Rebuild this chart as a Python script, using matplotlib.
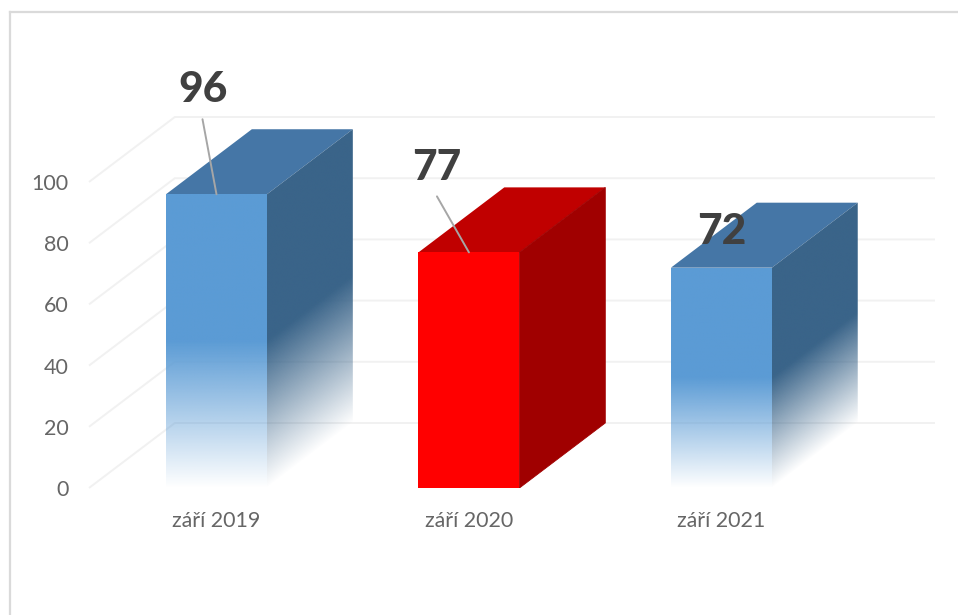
import numpy as np
import matplotlib
matplotlib.use('Agg')
import matplotlib.pyplot as plt
from matplotlib.lines import Line2D
from matplotlib.patches import Polygon

plt.rcParams['font.family'] = ['Lato', 'DejaVu Sans']

# data
categories = ['září 2019', 'září 2020', 'září 2021']
values = [96, 77, 72]
y_ticks = [0, 20, 40, 60, 80, 100]

# colours per bar: front, top, side
front_colors = ['#5B9BD5', '#FF0000', '#5B9BD5']
top_colors = ['#4576A6', '#C00000', '#4576A6']
side_colors = ['#3A6489', '#A00000', '#3A6489']
fades = [True, False, True]

# label placement in pixels from the bar top centre
label_offsets = [(-13, 104), (-32, 84), (0, 36)]
leader_offsets = [(-14, 75), (-32, 56), None]

W, H = 958, 615
BAR_W = 0.40
DEPTH_X = 0.34
DEPTH_Y = 65 / 3.06


def hex_rgb(c):
    return matplotlib.colors.to_rgb(c)


fig = plt.figure(figsize=(W / 100, H / 100), dpi=100, facecolor='white')
ax = fig.add_axes([89 / W, (H - 488) / H, (935 - 89) / W, (488 - 100) / H])
ax.patch.set_alpha(0)

# outer chart frame, only top and left are in the crop
frame = dict(color='#DADADA', lw=1.6, transform=fig.transFigure)
fig.add_artist(Line2D([9.5 / W, 9.5 / W], [0, 1 - 11.5 / H], **frame))
fig.add_artist(Line2D([9.5 / W, 1], [1 - 11.5 / H, 1 - 11.5 / H], **frame))

x_min, x_max = -0.505, 2.846
y_max = 388 / 3.06

# wall and floor grid
for t in y_ticks:
    ax.plot([x_min, x_min + DEPTH_X, x_max], [t, t + DEPTH_Y, t + DEPTH_Y],
            color='#F1F1F1', lw=1.4, zorder=1, clip_on=False,
            solid_joinstyle='miter', solid_capstyle='butt')

for i, v in enumerate(values):
    x0 = i - BAR_W / 2
    x1 = i + BAR_W / 2

    # top face
    ax.add_patch(Polygon([(x0, v), (x1, v), (x1 + DEPTH_X, v + DEPTH_Y), (x0 + DEPTH_X, v + DEPTH_Y)],
                         closed=True, facecolor=top_colors[i], edgecolor='none', zorder=3, clip_on=False))

    front_poly = Polygon([(x0, 0), (x1, 0), (x1, v), (x0, v)], closed=True,
                         facecolor='none', edgecolor='none', zorder=3)
    side_poly = Polygon([(x1, 0), (x1 + DEPTH_X, DEPTH_Y), (x1 + DEPTH_X, v + DEPTH_Y), (x1, v)], closed=True,
                        facecolor='none', edgecolor='none', zorder=3)
    ax.add_patch(side_poly)
    ax.add_patch(front_poly)

    if fades[i]:
        # front face: solid in the upper half, fading to nothing at the floor
        h = np.linspace(0, 1, 300)
        img = np.ones((300, 2, 4))
        img[:, :, :3] = hex_rgb(front_colors[i])
        img[:, :, 3] = np.clip(h * 2, 0, 1)[:, None]
        im = ax.imshow(img, extent=[x0, x1, 0, v], origin='lower', aspect='auto',
                       interpolation='bilinear', zorder=3)
        im.set_clip_path(front_poly)

        # side face: same fade, sheared with the depth
        uu, yy = np.meshgrid(np.linspace(0, 1, 200), np.linspace(0, v + DEPTH_Y, 500))
        img = np.ones((500, 200, 4))
        img[:, :, :3] = hex_rgb(side_colors[i])
        img[:, :, 3] = np.clip((yy - uu * DEPTH_Y) / v * 2, 0, 1)
        im = ax.imshow(img, extent=[x1, x1 + DEPTH_X, 0, v + DEPTH_Y], origin='lower', aspect='auto',
                       interpolation='bilinear', zorder=3)
        im.set_clip_path(side_poly)
    else:
        side_poly.set_facecolor(side_colors[i])
        side_poly.set_edgecolor(side_colors[i])
        side_poly.set_linewidth(0.6)
        front_poly.set_facecolor(front_colors[i])

    # leader line and data label
    if leader_offsets[i] is not None:
        ax.annotate('', xy=(i, v), xytext=leader_offsets[i], textcoords='offset pixels',
                    arrowprops=dict(arrowstyle='-', color='#A6A6A6', lw=1.4, shrinkA=0, shrinkB=0),
                    zorder=4, annotation_clip=False)
    ax.annotate(str(v), xy=(i, v), xytext=label_offsets[i], textcoords='offset pixels',
                ha='center', va='center', fontsize=30.5, fontweight='black', color='#404040',
                zorder=5, annotation_clip=False)

ax.set_xlim(x_min, x_max)
ax.set_ylim(0, y_max)

ax.set_xticks(range(len(categories)))
ax.set_xticklabels(categories)
ax.set_yticks(y_ticks)
ax.tick_params(axis='x', length=0, pad=16.5, labelsize=15.4, labelcolor='#666666')
ax.tick_params(axis='y', length=0, pad=14.5, labelsize=15.5, labelcolor='#666666')
for s in ax.spines.values():
    s.set_visible(False)

fig.savefig('out.png', dpi=100)
plt.close(fig)
